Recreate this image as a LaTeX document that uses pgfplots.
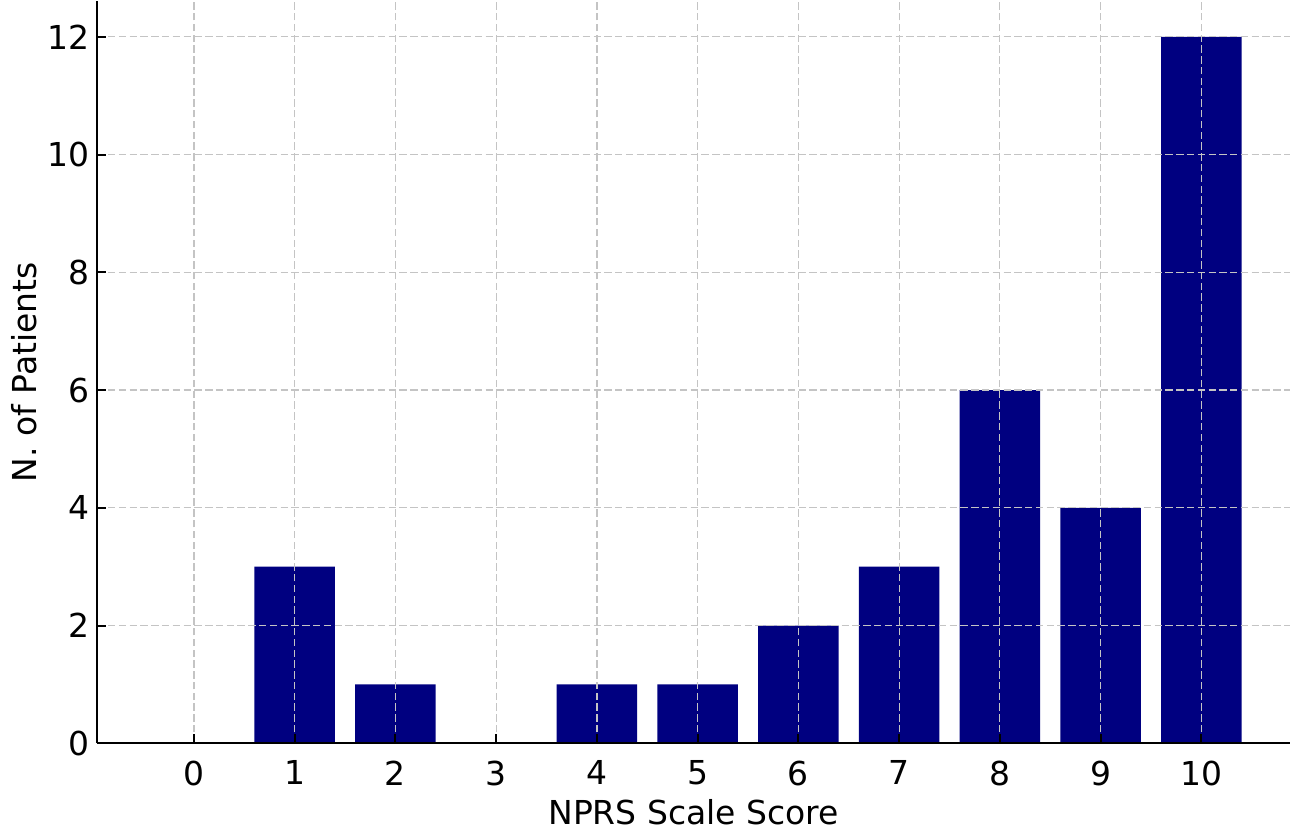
\documentclass[border=0pt]{standalone}
\usepackage{fontspec}
\setmainfont{DejaVu Sans}
\usepackage{pgfplots}
\pgfplotsset{compat=1.18}
\definecolor{barnavy}{HTML}{000080}
\definecolor{gridgray}{HTML}{C4C4C4}
\begin{document}
\fontsize{16.5pt}{20pt}\selectfont
\begin{tikzpicture}
\begin{axis}[
  scale only axis,
  width=597pt, height=371.5pt,
  xmin=-0.96, xmax=10.88,
  ymin=0, ymax=12.61,
  axis x line*=bottom, axis y line*=left,
  axis line style={line width=1pt, black},
  xtick={0,...,10}, ytick={0,2,...,12},
  tick align=inside,
  major tick length=4.5pt,
  tick style={line width=1pt, black},
  grid=major,
  major grid style={gridgray, line width=0.6pt, dash pattern=on 3.7pt off 1.7pt},
  axis on top,
  /pgf/number format/assume math mode=true,
  ticklabel style={font=\fontsize{16.5pt}{20pt}\selectfont},
  xticklabel style={yshift=-3pt},
  yticklabel style={xshift=2pt},
  label style={font=\fontsize{16.5pt}{20pt}\selectfont},
  xlabel={NPRS Scale Score},
  ylabel={N. of Patients},
  xlabel style={yshift=4pt},
  ylabel style={yshift=-5.5pt},
]
\addplot[ybar, bar width=0.8, fill=barnavy, draw=none] coordinates {
  (0,0) (1,3) (2,1) (3,0) (4,1) (5,1) (6,2) (7,3) (8,6) (9,4) (10,12)
};
\end{axis}
\path (current axis.south east) ++(5pt,0);
\end{tikzpicture}
\end{document}
